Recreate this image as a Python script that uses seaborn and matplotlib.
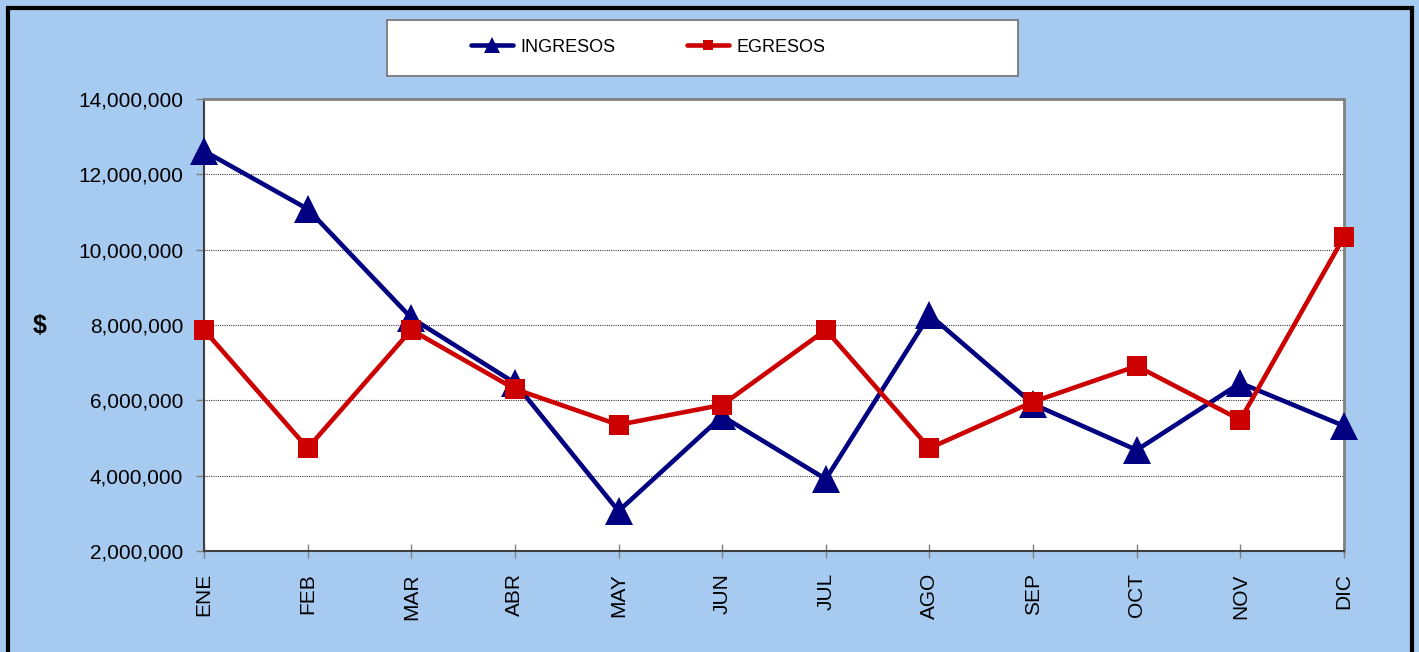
import pandas as pd
import matplotlib.pyplot as plt
import matplotlib.ticker as mticker
from matplotlib.patches import Rectangle
import seaborn as sns

# -------------------------------
# Data
# -------------------------------
meses = ["ENE", "FEB", "MAR", "ABR", "MAY", "JUN",
         "JUL", "AGO", "SEP", "OCT", "NOV", "DIC"]
ingresos = [12620000, 11080000, 8190000, 6460000, 3060000, 5580000,
            3910000, 8270000, 5900000, 4680000, 6460000, 5320000]
egresos = [7870000, 4730000, 7870000, 6300000, 5350000, 5880000,
           7870000, 4730000, 5960000, 6910000, 5480000, 10340000]
y_ticks = [2000000, 4000000, 6000000, 8000000, 10000000, 12000000, 14000000]

df = pd.DataFrame({"mes": meses, "INGRESOS": ingresos, "EGRESOS": egresos})
df["pos"] = range(len(meses))

sns.set_theme(style="white")
plt.rcParams['font.family'] = ['Liberation Sans', 'DejaVu Sans']
plt.rcParams['text.color'] = "black"

bg = "#A6CAF0"
fig = plt.figure(figsize=(14.19, 6.52), dpi=100, facecolor=bg)
ax = fig.add_axes([204 / 1419, 1 - 551 / 652, (1344 - 204) / 1419, (551 - 99) / 652])
ax.set_facecolor("white")

sns.lineplot(data=df, x="pos", y="INGRESOS", ax=ax, color="#000080", lw=3.3,
             marker="^", markersize=20, markeredgewidth=0, label="INGRESOS",
             clip_on=False, zorder=4)
sns.lineplot(data=df, x="pos", y="EGRESOS", ax=ax, color="#CC0000", lw=3.3,
             marker="s", markersize=14, markeredgewidth=0, label="EGRESOS",
             clip_on=False, zorder=5)

ax.set_xlim(0, len(meses) - 1)
ax.set_ylim(y_ticks[0], y_ticks[-1])
ax.set_xticks(df["pos"])
ax.set_xticklabels(meses, rotation=90, fontsize=15)
ax.set_yticks(y_ticks)
ax.yaxis.set_major_formatter(mticker.StrMethodFormatter("{x:,.0f}"))
ax.tick_params(axis="y", labelsize=15, direction="out", length=6, width=1,
               color="#808080", labelcolor="black", left=True, pad=9)
ax.tick_params(axis="x", direction="inout", length=10, width=1,
               color="#808080", labelcolor="black", bottom=True, pad=11)
ax.set_xlabel("")
ax.set_ylabel("")

ax.grid(axis="y", linestyle=(0, (1, 1)), color="#404040", lw=0.8)
ax.grid(axis="x", visible=False)
for side in ["top", "right"]:
    ax.spines[side].set_color("#808080")
    ax.spines[side].set_linewidth(2)
for side in ["left", "bottom"]:
    ax.spines[side].set_color("#404040")
    ax.spines[side].set_linewidth(1.5)

# y axis title
fig.text(40 / 1419, 1 - 326 / 652, "$", fontsize=18, fontweight="bold",
         ha="center", va="center")

# legend box
fig.patches.append(Rectangle((387 / 1419, 1 - 76 / 652), (1018 - 387) / 1419, 56 / 652,
                             transform=fig.transFigure, facecolor="white",
                             edgecolor="#707070", lw=1.2, zorder=1))
ax.legend_.remove()
handles, labels = ax.get_legend_handles_labels()
fig.legend(handles, labels, loc="center left", bbox_to_anchor=(455 / 1419, 1 - 47 / 652),
           ncol=2, frameon=False, fontsize=13,
           handlelength=2.3, handletextpad=0.4, columnspacing=4.0, markerscale=0.55)

# outer frame
fig.patches.append(Rectangle((8 / 1419, -0.05), (1412 - 8) / 1419, 1.05 - 8 / 652,
                             transform=fig.transFigure, fill=False,
                             edgecolor="black", lw=3, zorder=0))

plt.savefig("out.png", dpi=100, facecolor=bg)
